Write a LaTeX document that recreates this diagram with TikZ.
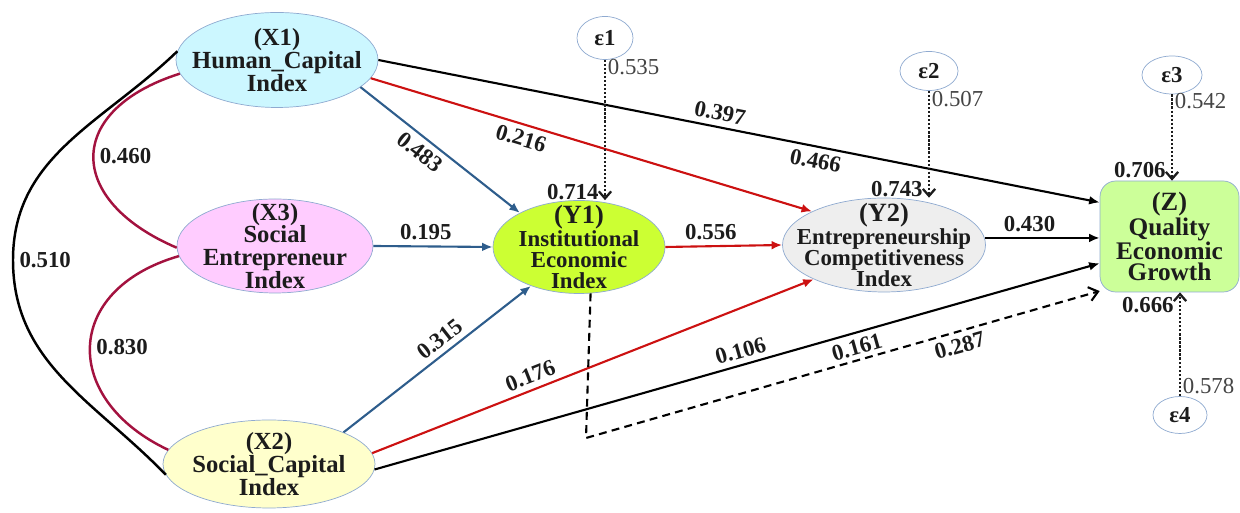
\documentclass[tikz,border=0pt]{standalone}
\usepackage{fontspec}
\setmainfont{Liberation Serif}
\usetikzlibrary{shapes.geometric, arrows.meta, positioning, calc}
\definecolor{hcFill}{HTML}{CCF7FF}
\definecolor{seFill}{HTML}{FFCCFF}
\definecolor{scFill}{HTML}{FFFFCC}
\definecolor{ieFill}{HTML}{CCFF33}
\definecolor{ecFill}{HTML}{EEEEEE}
\definecolor{qgFill}{HTML}{CCFF99}
\definecolor{nBorder}{HTML}{8FAAD0}
\definecolor{pBlue}{HTML}{2E5D8C}
\definecolor{pRed}{HTML}{CC1111}
\definecolor{pMaroon}{HTML}{A3123F}
\definecolor{nInk}{HTML}{1C1C1C}
\definecolor{eInk}{HTML}{444444}
\newcommand{\hdrsize}{\fontsize{15}{13}\selectfont}
\tikzset{
  latent/.style={ellipse, draw=nBorder, thin, inner sep=0pt},
  xtxt/.style={font=\bfseries\fontsize{14}{13}\selectfont, text=nInk, align=center, inner sep=0pt},
  ytxt/.style={font=\bfseries\fontsize{13}{12}\selectfont, text=nInk, align=center, inner sep=0pt},
  outbox/.style={rectangle, draw=nBorder, thin, rounded corners=9pt, fill=qgFill,
    font=\bfseries\fontsize{14.4}{12}\selectfont, text=nInk, align=center},
  errc/.style={ellipse, draw=nBorder, thin, fill=white, inner sep=0pt,
    font=\bfseries\fontsize{13}{13}\selectfont, text=nInk},
}
\tikzset{
  pathb/.style={-{Latex[length=6pt,width=5pt]}, line width=1.2pt, pBlue},
  pathr/.style={-{Latex[length=6pt,width=5pt]}, line width=1.2pt, pRed},
  pathk/.style={-{Latex[length=6pt,width=5pt]}, line width=1.2pt, black},
  corr/.style={line width=1.4pt, pMaroon},
  corrk/.style={line width=1.4pt, black},
  errarr/.style={-{Straight Barb[length=4pt,width=7pt]}, densely dotted, line width=1.3pt, nInk},
  indir/.style={-{Straight Barb[length=5pt,width=8pt]}, dash pattern=on 4.5pt off 3pt, line width=1.2pt, black},
  coef/.style={font=\bfseries\fontsize{13}{13}\selectfont, text=nInk, inner sep=3pt},
  errlbl/.style={font=\fontsize{13}{13}\selectfont, text=eInk, inner sep=1pt},
}
\begin{document}
\begin{tikzpicture}
  \useasboundingbox (0,0) rectangle (24.8,10.26);
  % constructs
  \node[latent, fill=hcFill, minimum width=4.04cm, minimum height=1.90cm] (X1) at (5.54,9.06) {};
  \node[xtxt] (X1t) at (X1) {(X1)\\Human\_Capital\\Index};
  \node[latent, fill=seFill, minimum width=3.92cm, minimum height=1.88cm] (X3) at (5.50,5.34) {};
  \node[xtxt] (X3t) at (X3) {(X3)\\Social\\Entrepreneur\\Index};
  \node[latent, fill=scFill, minimum width=4.24cm, minimum height=1.76cm] (X2) at (5.38,0.98) {};
  \node[xtxt] (X2t) at (X2) {(X2)\\Social\_Capital\\Index};
  \node[latent, fill=ieFill, minimum width=3.44cm, minimum height=1.86cm] (Y1) at (11.58,5.32) {};
  \node[ytxt] (Y1t) at (Y1) {{\hdrsize(Y1)}\\Institutional\\Economic\\Index};
  \node[latent, fill=ecFill, minimum width=4.06cm, minimum height=1.88cm] (Y2) at (17.68,5.36) {};
  \node[ytxt] (Y2t) at (Y2) {{\hdrsize(Y2)}\\Entrepreneurship\\Competitiveness\\Index};
  \node[outbox, minimum width=2.78cm, minimum height=2.22cm] (Z) at (23.39,5.53)
    {{\hdrsize(Z)}\\Quality\\Economic\\Growth};
  % error terms
  \node[errc, minimum width=1.12cm, minimum height=0.86cm] (e1) at (12.10,9.50) {ε1};
  \node[errc, minimum width=1.16cm, minimum height=0.78cm] (e2) at (18.58,8.84) {ε2};
  \node[errc, minimum width=1.20cm, minimum height=0.76cm] (e3) at (23.44,8.76) {ε3};
  \node[errc, minimum width=1.08cm, minimum height=0.74cm] (e4) at (23.60,1.96) {ε4};
  \coordinate (hsbend) at (0.26,5.06);
  \coordinate (dcorner) at (11.72,1.50);

  % correlations
  \draw[corr] (X1.188) .. controls (1.30,8.06) and (1.30,6.26) .. node[coef, right] {0.460} (X3.181);
  \draw[corr] (X3.186) .. controls (1.24,4.46) and (1.24,2.26) .. node[coef, right] {0.830} (X2.172);
  \draw[corrk] (X1.175) to[out=224, in=90] (hsbend) node[coef, right] {0.510}
    to[out=-90, in=134] (X2.186);

  % paths
  \draw[pathb] (X1.-18) -- node[coef, sloped, below, pos=0.43] {0.483} (Y1.150);
  \draw[pathb] (X3.east) -- node[coef, above, pos=0.44] {0.195} (Y1.west);
  \draw[pathb] (X2.23) -- node[coef, sloped, above, pos=0.56] {0.315} (Y1.-141);
  \draw[pathr] (X1.-11) -- node[coef, sloped, below, pos=0.35] {0.216} (Y2.155);
  \draw[pathk] (X1.east) -- node[coef, sloped, above, pos=0.47] {0.397}
    node[coef, sloped, below, pos=0.61] {0.466} (Z.154);
  \draw[pathr] (Y1.east) -- node[coef, above, pos=0.39] {0.556} (Y2.west);
  \draw[pathk] (Y2.4) -- node[coef, above, pos=0.39] {0.430} (Y2.4 -| Z.west);
  \draw[pathr] (X2.6) -- node[coef, sloped, above, pos=0.37] {0.176} (Y2.-154);
  \draw[pathk] (X2.-3) -- node[coef, sloped, above, pos=0.51] {0.106}
    node[coef, sloped, below, pos=0.66] {0.161} (Z.-159);
  \draw[indir] (Y1.-76) -- (dcorner) -- node[coef, sloped, below, pos=0.72] {0.287} (Z.-142);

  % residuals
  \draw[errarr] (e1.south) -- node[errlbl, anchor=west, pos=0.05] {0.535}
    node[coef, left, pos=0.94] {0.714} (e1.south |- Y1.north);
  \draw[errarr] (e2.south) -- node[errlbl, anchor=west, pos=0.08] {0.507}
    node[coef, left, pos=0.92] {0.743} (e2.south |- Y2.north);
  \draw[errarr] (e3.south) -- node[errlbl, anchor=west, pos=0.08] {0.542}
    node[coef, left, pos=0.88] {0.706} (e3.south |- Z.north);
  \draw[errarr] (e4.north) -- node[errlbl, anchor=west, pos=0.10] {0.578}
    node[coef, left, pos=0.88] {0.666} (e4.north |- Z.south);
\end{tikzpicture}
\end{document}
